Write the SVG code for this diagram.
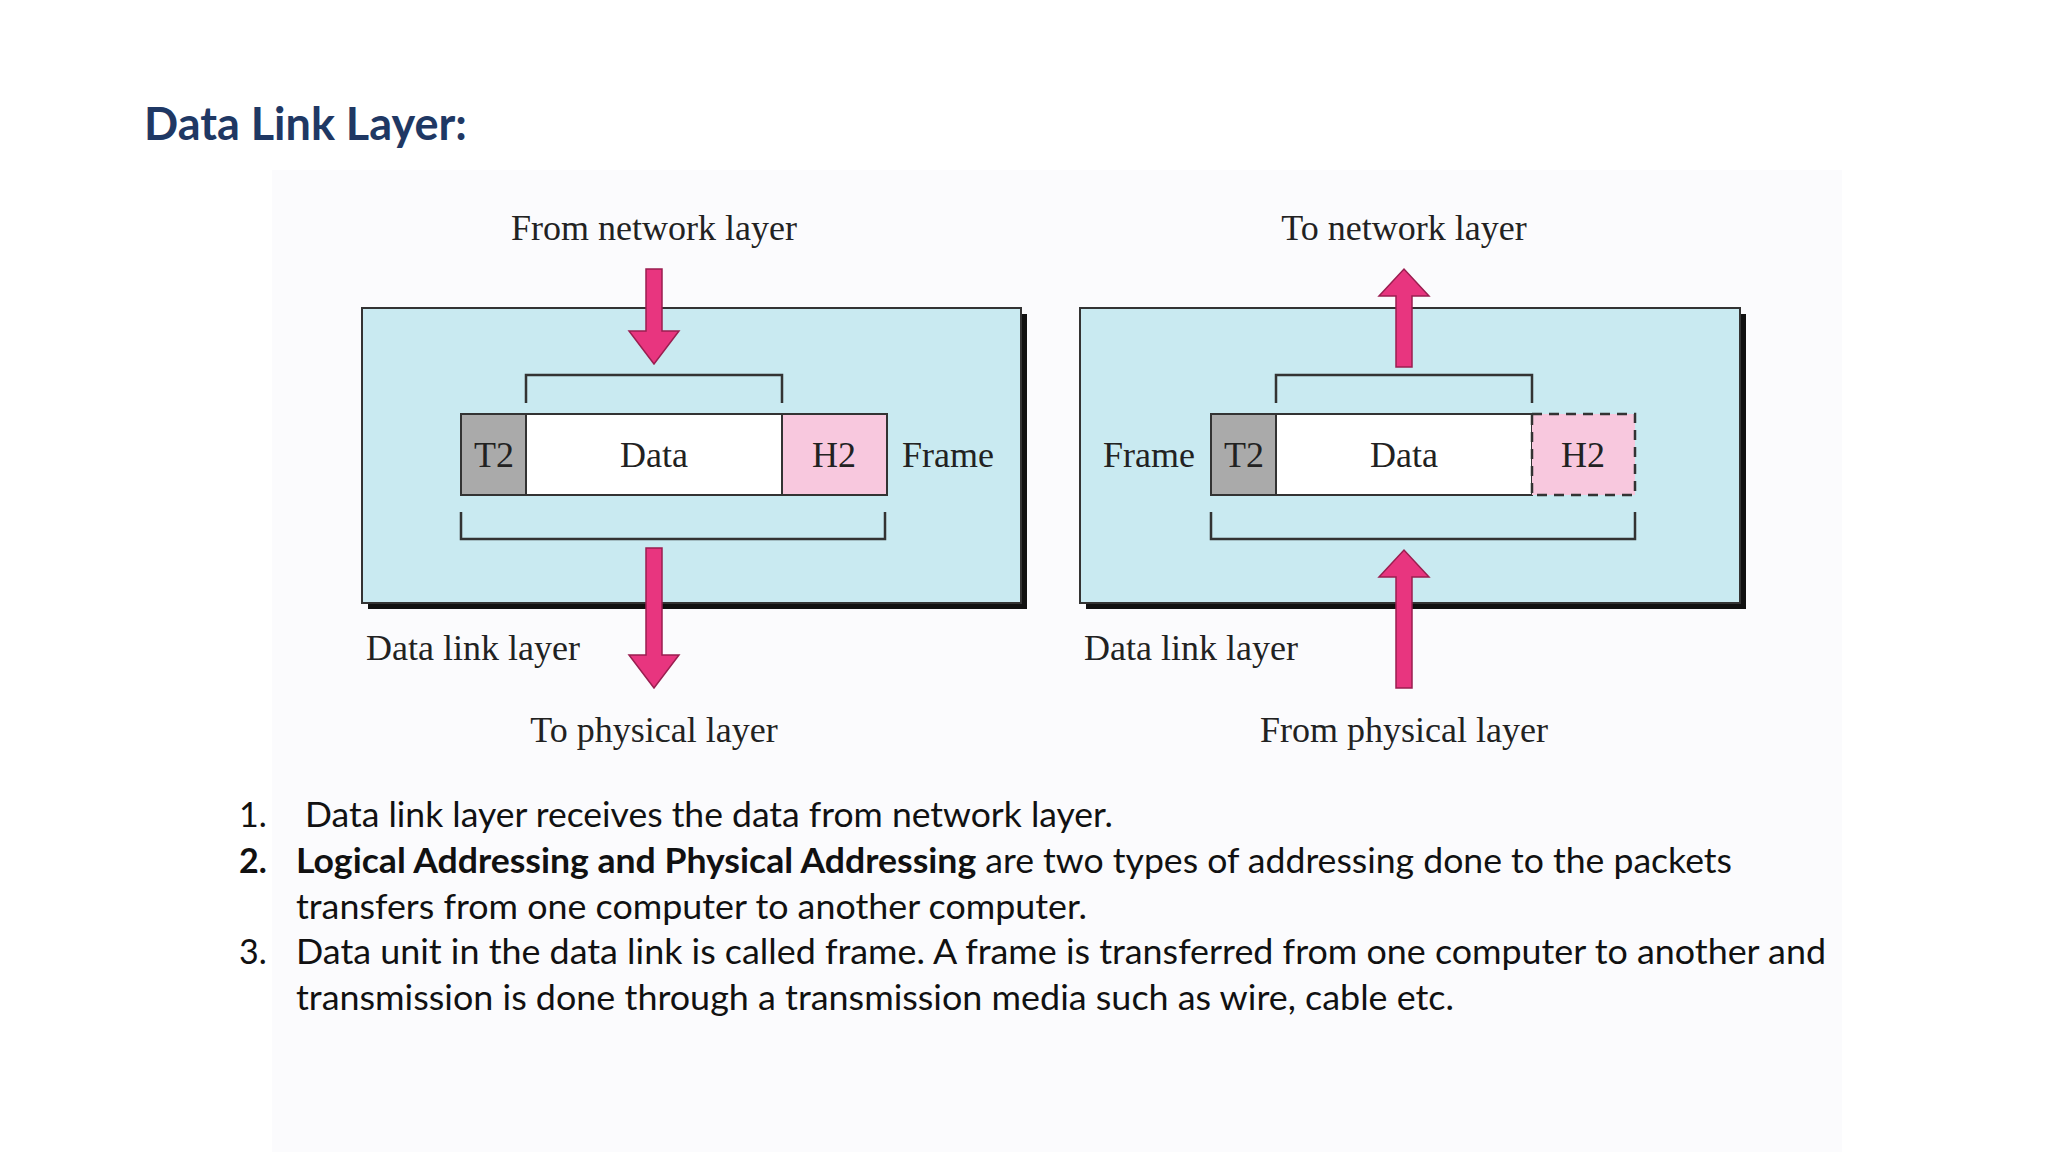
<svg xmlns="http://www.w3.org/2000/svg" width="2048" height="1152" viewBox="0 0 2048 1152">
<style>
.lbl{font-family:"Liberation Serif",serif;font-size:36px;fill:#222}
.box{fill:#c9eaf1;stroke:#333;stroke-width:2}
.sh{fill:#111}
.br{fill:none;stroke:#333;stroke-width:2.5}
.arr{fill:#e8357f;stroke:#9a1e50;stroke-width:1.5}
.txt{font-family:Lato,"Open Sans",sans-serif;font-size:34px;fill:#111}
</style>
<rect width="2048" height="1152" fill="#ffffff"/>
<rect x="272" y="170" width="1570" height="982" fill="#fbfbfd"/>
<text x="144" y="140" font-family="Lato,'Open Sans',sans-serif" font-weight="bold" font-size="45" fill="#1f3864">Data Link Layer:</text>

<g id="left">
<rect class="sh" x="368" y="314" width="659" height="295"/>
<rect class="box" x="362" y="308" width="659" height="295"/>
<rect x="461" y="414" width="65" height="81" fill="#aaaaaa" stroke="#333" stroke-width="2"/>
<rect x="526" y="414" width="256" height="81" fill="#fff" stroke="#333" stroke-width="2"/>
<rect x="782" y="414" width="105" height="81" fill="#f8c8de" stroke="#333" stroke-width="2"/>
<text class="lbl" x="494" y="467" text-anchor="middle">T2</text>
<text class="lbl" x="654" y="467" text-anchor="middle">Data</text>
<text class="lbl" x="834" y="467" text-anchor="middle">H2</text>
<text class="lbl" x="902" y="467">Frame</text>
<path class="br" d="M526 403V375H782V403"/>
<path class="br" d="M461 512V539H885V512"/>
<text class="lbl" x="654" y="240" text-anchor="middle">From network layer</text>
<text class="lbl" x="366" y="660">Data link layer</text>
<text class="lbl" x="654" y="742" text-anchor="middle">To physical layer</text>
</g>

<g id="right">
<rect class="sh" x="1086" y="314" width="660" height="295"/>
<rect class="box" x="1080" y="308" width="660" height="295"/>
<rect x="1211" y="414" width="65" height="81" fill="#aaaaaa" stroke="#333" stroke-width="2"/>
<rect x="1276" y="414" width="256" height="81" fill="#fff" stroke="#333" stroke-width="2"/>
<rect x="1532" y="414" width="103" height="81" fill="#f8c8de" stroke="#333" stroke-width="2.5" stroke-dasharray="10 7"/>
<text class="lbl" x="1244" y="467" text-anchor="middle">T2</text>
<text class="lbl" x="1404" y="467" text-anchor="middle">Data</text>
<text class="lbl" x="1583" y="467" text-anchor="middle">H2</text>
<text class="lbl" x="1103" y="467">Frame</text>
<path class="br" d="M1276 403V375H1532V403"/>
<path class="br" d="M1211 512V539H1635V512"/>
<text class="lbl" x="1404" y="240" text-anchor="middle">To network layer</text>
<text class="lbl" x="1084" y="660">Data link layer</text>
<text class="lbl" x="1404" y="742" text-anchor="middle">From physical layer</text>
</g>

<g id="connectors">
<path class="arr" d="M646 269H662V331H679L654 364L629 331H646Z"/>
<path class="arr" d="M646 548H662V655H679L654 688L629 655H646Z"/>
<path class="arr" d="M1396 367H1412V296H1429L1404 269L1379 296H1396Z"/>
<path class="arr" d="M1396 688H1412V577H1429L1404 550L1379 577H1396Z"/>
</g>

<g id="notes" class="txt">
<text x="239" y="827">1.</text>
<text x="305" y="827" textLength="808" lengthAdjust="spacingAndGlyphs">Data link layer receives the data from network layer.</text>
<text x="239" y="873" font-weight="bold">2.</text>
<text x="296" y="873" textLength="1436" lengthAdjust="spacingAndGlyphs"><tspan font-weight="bold">Logical Addressing and Physical Addressing</tspan> are two types of addressing done to the packets</text>
<text x="296" y="919" textLength="791" lengthAdjust="spacingAndGlyphs">transfers from one computer to another computer.</text>
<text x="239" y="964">3.</text>
<text x="296" y="964" textLength="1530" lengthAdjust="spacingAndGlyphs">Data unit in the data link is called frame. A frame is transferred from one computer to another and</text>
<text x="296" y="1010" textLength="1158" lengthAdjust="spacingAndGlyphs">transmission is done through a transmission media such as wire, cable etc.</text>
</g>
</svg>
